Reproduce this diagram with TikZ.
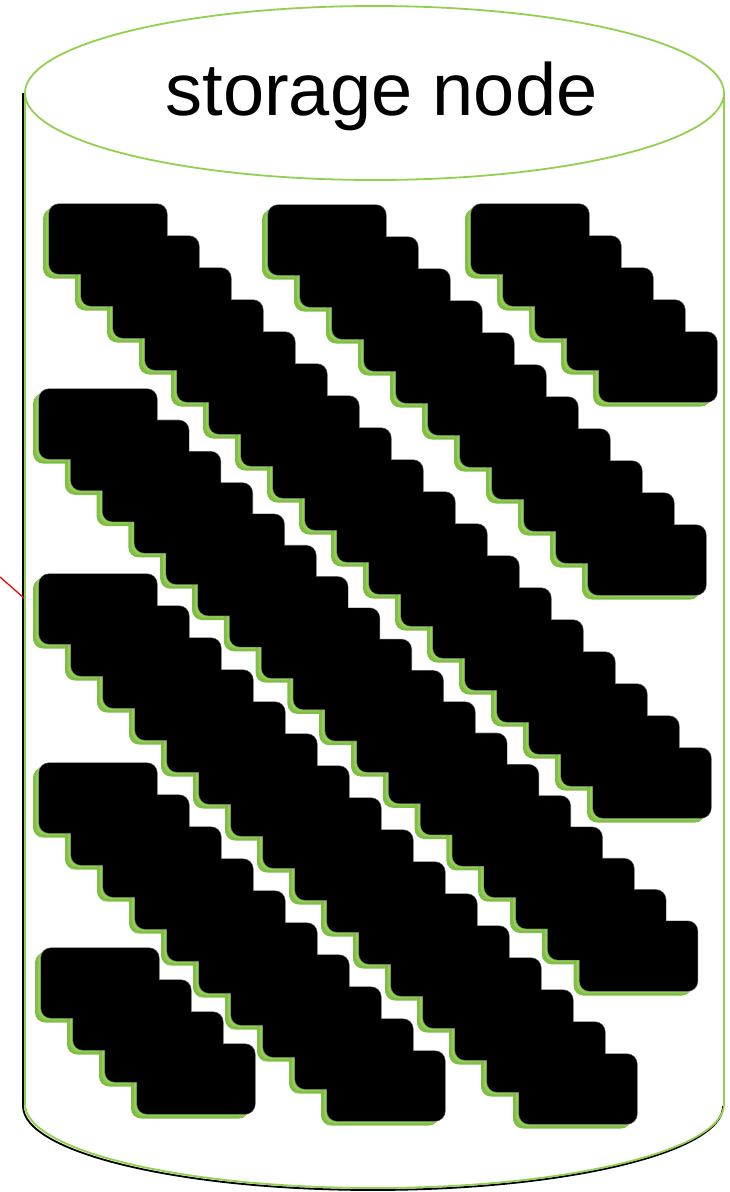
\documentclass[tikz,border=0pt]{standalone}
\usepackage{fontspec}
\setmainfont{Liberation Sans}
\definecolor{lgreen}{RGB}{146,208,80}
\definecolor{dgreen}{RGB}{128,190,72}
\begin{document}
\begin{tikzpicture}[x=1pt,y=-1pt,
  cylline/.style={draw=lgreen,line width=1.8pt},
  cylshade/.style={draw=black,line width=1.8pt},
  shadowouter/.style={fill=dgreen,rounded corners=10pt},
  shadowinner/.style={fill=lgreen,rounded corners=10pt},
  diskedge/.style={draw=black!55,line width=1.2pt,rounded corners=10pt},
  diskfill/.style={fill=black,rounded corners=10pt},
  label/.style={font=\fontsize{74}{80}\selectfont,anchor=base,inner sep=0pt},
  redline/.style={draw=red,line width=1.3pt}]
\useasboundingbox (0,0) rectangle (730,1192);
\fill[white] (0,0) rectangle (730,1192);
% cylinder body: black shadow, then green outline
\path[cylshade] (23,93) -- (23,1106) arc[start angle=180,end angle=360,x radius=350pt,y radius=84pt];
\path[cylline] (25,93) -- (25,1104) arc[start angle=180,end angle=360,x radius=349.5pt,y radius=84pt] -- (724,93);
% top ellipse
\path[cylline] (374.5,93) ellipse[x radius=349.5pt,y radius=87pt];
\node[label] (title) at (381.5,115) {storage node};
% stacks of disks: x0/y0/last index/dx/dy
\def\bands{49/204/17/32/32,268/205/10/32/32,471/204/4/32/32,39/389/17/31.8/31.3,39/574/15/32/32,39/763/9/32/32,41/948/3/32/32}
\foreach \x/\y/\n/\dx/\dy in \bands {
  \foreach \i in {0,...,\n} {
    \path[shadowouter] ({\x+\dx*\i-6},{\y+\dy*\i+4.5}) rectangle ++(118,70);
    \path[shadowinner] ({\x+\dx*\i-3},{\y+\dy*\i+2}) rectangle ++(118,70);
  }
}
\foreach \x/\y/\n/\dx/\dy in \bands {
  \foreach \i in {0,...,\n} {
    \path[diskedge] ({\x+\dx*\i},{\y+\dy*\i}) rectangle ++(118,70);
  }
}
\foreach \x/\y/\n/\dx/\dy in \bands {
  \foreach \i in {0,...,\n} {
    \path[diskfill] ({\x+\dx*\i},{\y+\dy*\i}) rectangle ++(118,70);
  }
}
% red connector reaching the cylinder wall
\coordinate (redstart) at (0,577);
\coordinate (wall) at (24,598);
\path[redline] (redstart) -- (wall);
\end{tikzpicture}
\end{document}
